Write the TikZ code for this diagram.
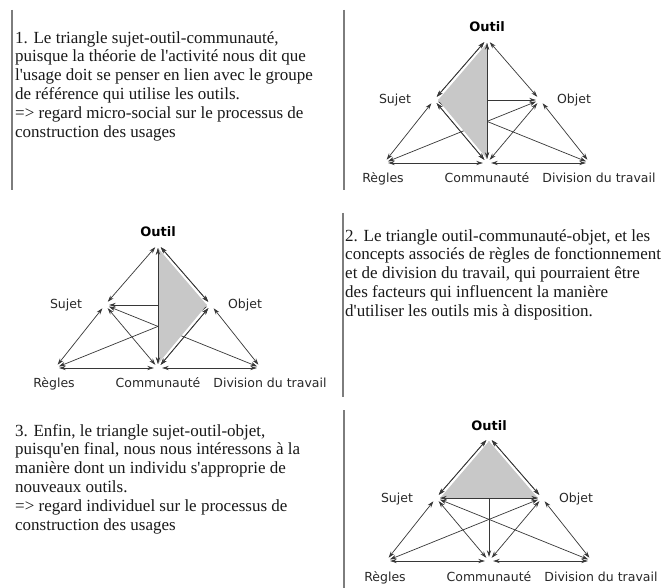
\documentclass[tikz,border=0pt]{standalone}
\usepackage{fontspec}
\setmainfont{Liberation Serif}[Ligatures=TeXOff]
\newfontfamily\lblfont{DejaVu Sans}
\usetikzlibrary{arrows.meta,calc}
\definecolor{linecol}{RGB}{55,55,55}
\definecolor{labelcol}{RGB}{40,40,40}
\definecolor{textcol}{RGB}{25,25,25}
\definecolor{sepcol}{RGB}{125,125,125}
\definecolor{shadecol}{RGB}{200,200,200}
\tikzset{
  vtx/.style={circle,inner sep=0pt,minimum size=8pt},
  edge/.style={draw=linecol,line width=0.7pt,{Stealth[length=6.5pt,width=4.2pt]}-{Stealth[length=6.5pt,width=4.2pt]}},
  lbl/.style={font=\lblfont\fontsize{12.5}{14}\selectfont,text=labelcol,inner sep=0pt,anchor=base},
  toplbl/.style={lbl,font=\lblfont\bfseries\fontsize{13}{15}\selectfont,text=black},
  para/.style={font=\fontsize{17}{18.8}\selectfont,align=left,anchor=north west,inner sep=0pt,text=textcol},
  sepline/.style={draw=sepcol,line width=1.3pt},
  shade/.style={fill=shadecol,draw=none}
}
\newcommand\actdiag[5]{%
  \coordinate (#1c0) at (#2,#3);
  \node[vtx] (#1C) at (#1c0) {};
  \node[vtx] (#1O) at ([shift={(0,-124)}]#1c0) {};
  \node[vtx] (#1S) at ([shift={(-53,-63)}]#1c0) {};
  \node[vtx] (#1B) at ([shift={(53,-63)}]#1c0) {};
  \node[vtx] (#1R) at ([shift={(-103,0)}]#1c0) {};
  \node[vtx] (#1D) at ([shift={(103,0)}]#1c0) {};
  \node[toplbl] (#1lO) at ([shift={(0,-131)}]#1c0) {Outil};
  \node[lbl] (#1lS) at ([shift={(-92,-59)}]#1c0) {Sujet};
  \node[lbl] (#1lB) at ([shift={(87,-59)}]#1c0) {Objet};
  \node[lbl] (#1lR) at ([shift={(-104,20)}]#1c0) {Règles};
  \node[lbl] (#1lC) at ([shift={(0,20)}]#1c0) {Communauté};
  \node[lbl] (#1lD) at ([shift={(112,20)}]#1c0) {Division du travail};
  \foreach \p/\q in {O/S,O/B,O/C,S/R,S/C,S/B,S/D,B/C,B/D,B/R,R/C,C/D}
    \draw[edge] (#1\p) -- (#1\q);
  \fill[shade] #4;
  \foreach \p/\q in {#5}
    \draw[edge] (#1\p) -- (#1\q);
}
\begin{document}
\begin{tikzpicture}[x=1pt,y=-1pt]
\useasboundingbox (0,0) rectangle (670,588);
\fill[white] (0,0) rectangle (670,588);
% separators
\draw[sepline] (12,10) -- (12,190);
\draw[sepline] (344,10) -- (344,190);
\draw[sepline] (343,213) -- (343,397);
\draw[sepline] (344,410) -- (344,588);
% paragraphs
\node[para] (t1) at (15,31) {1. Le triangle sujet-outil-communauté,\\
puisque la théorie de l'activité nous dit que\\
l'usage doit se penser en lien avec le groupe\\
de référence qui utilise les outils.\\
=> regard micro-social sur le processus de\\
construction des usages};
\node[para] (t2) at (345,229) {2. Le triangle outil-communauté-objet, et les\\
concepts associés de règles de fonctionnement\\
et de division du travail, qui pourraient être\\
des facteurs qui influencent la manière\\
d'utiliser les outils mis à disposition.};
\node[para] (t3) at (15,424) {3. Enfin, le triangle sujet-outil-objet,\\
puisqu'en final, nous nous intéressons à la\\
manière dont un individu s'approprie de\\
nouveaux outils.\\
=> regard individuel sur le processus de\\
construction des usages};
% diagrams
\actdiag{a}{487}{163}{(aO.south) -- (aS.east) -- (aC.north) -- cycle}{O/S,S/C,O/C}
\actdiag{b}{158}{368}{(bO.south) -- (bB.west) -- (bC.north) -- cycle}{O/B,B/C,O/C}
\actdiag{c}{489}{561}{(cO.south) -- (cS.east) -- (cB.west) -- cycle}{O/S,O/B,S/B}
\end{tikzpicture}
\end{document}
